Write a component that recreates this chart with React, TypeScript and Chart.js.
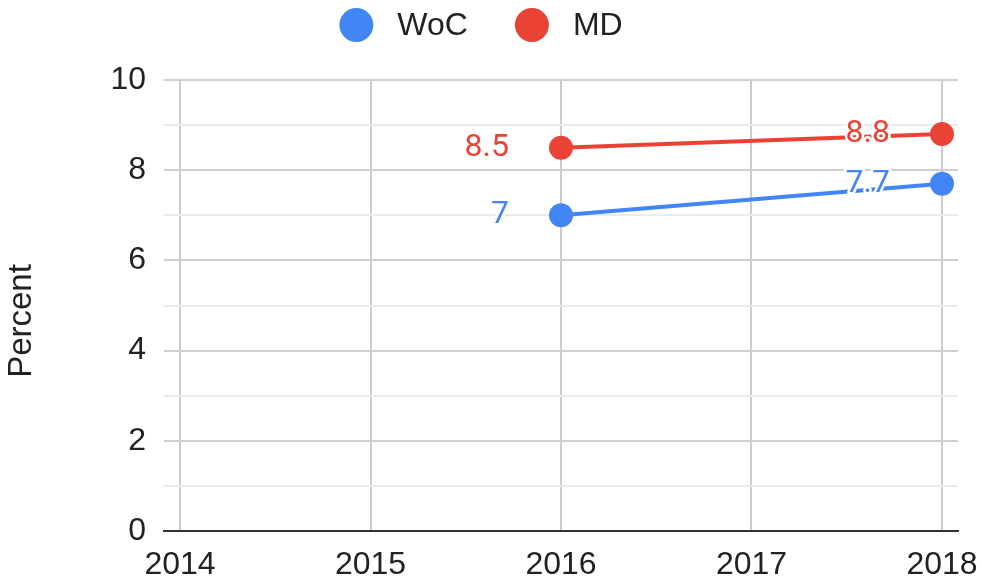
import React, { useEffect, useRef } from "react";
import { Chart, registerables } from "chart.js";

Chart.register(...registerables);

const seriesNames = ["WoC", "MD"];
const seriesColors = ["#4285F4", "#EA4335"];
const dataYears = [2016, 2018];
const wocValues = [7, 7.7];
const mdValues = [8.5, 8.8];
const xTickYears = [2014, 2015, 2016, 2017, 2018];
const yAxisTitle = "Percent";

const TEXT = "#222222";
const SANS = "'Liberation Sans', Arial, sans-serif";

const overlayPlugin = {
  id: "overlay",
  afterDatasetsDraw(chart: any) {
    const ctx = chart.ctx;
    ctx.save();
    ctx.font = "32px Roboto, 'Liberation Sans', sans-serif";
    ctx.textAlign = "right";
    ctx.textBaseline = "middle";
    ctx.lineJoin = "round";
    chart.data.datasets.forEach((ds: any, i: number) => {
      const meta = chart.getDatasetMeta(i);
      meta.data.forEach((pt: any, j: number) => {
        const label = String(ds.data[j].y);
        const x = pt.x - 52;
        const y = pt.y;
        ctx.lineWidth = 5;
        ctx.strokeStyle = "#ffffff";
        ctx.strokeText(label, x, y);
        ctx.fillStyle = ds.borderColor;
        ctx.fillText(label, x, y);
      });
    });
    ctx.restore();
  },
  afterDraw(chart: any) {
    const ctx = chart.ctx;
    ctx.save();
    ctx.font = "32px " + SANS;
    ctx.textBaseline = "middle";
    ctx.textAlign = "left";
    const r = 17;
    const gap = 24;
    const spacing = 47;
    const items = chart.data.datasets.map((ds: any) => ({
      label: ds.label,
      color: ds.borderColor,
      w: ctx.measureText(ds.label).width,
    }));
    let total = 0;
    items.forEach((it: any, i: number) => {
      total += 2 * r + gap + it.w + (i < items.length - 1 ? spacing : 0);
    });
    let x = 481 - total / 2;
    const ly = 25;
    items.forEach((it: any) => {
      ctx.fillStyle = it.color;
      ctx.beginPath();
      ctx.arc(x + r, ly, r, 0, Math.PI * 2);
      ctx.fill();
      ctx.fillStyle = TEXT;
      ctx.fillText(it.label, x + 2 * r + gap, ly + 1);
      x += 2 * r + gap + it.w + spacing;
    });
    ctx.translate(22, 321);
    ctx.rotate(-Math.PI / 2);
    ctx.font = "33px " + SANS;
    ctx.textAlign = "center";
    ctx.textBaseline = "middle";
    ctx.fillStyle = TEXT;
    ctx.fillText(yAxisTitle, 0, 0);
    ctx.restore();
  },
};

export default function App() {
  const ref = useRef<HTMLCanvasElement | null>(null);
  useEffect(() => {
    if (!ref.current) return;
    const mk = (vals: number[]) => vals.map((v, i) => ({ x: dataYears[i], y: v }));
    const chart = new Chart(ref.current, {
      type: "line",
      data: {
        datasets: [
          {
            label: seriesNames[0],
            data: mk(wocValues),
            borderColor: seriesColors[0],
            backgroundColor: seriesColors[0],
            borderWidth: 4,
            pointRadius: 12,
            pointBorderWidth: 0,
            pointBackgroundColor: seriesColors[0],
          },
          {
            label: seriesNames[1],
            data: mk(mdValues),
            borderColor: seriesColors[1],
            backgroundColor: seriesColors[1],
            borderWidth: 4,
            pointRadius: 12,
            pointBorderWidth: 0,
            pointBackgroundColor: seriesColors[1],
          },
        ],
      },
      options: {
        responsive: false,
        animation: false,
        layout: { padding: { top: 80, right: 23, left: 0, bottom: 0 } },
        plugins: {
          legend: { display: false },
          tooltip: { enabled: false },
          title: { display: false },
        },
        scales: {
          x: {
            type: "linear",
            min: xTickYears[0] - 0.084,
            max: xTickYears[xTickYears.length - 1] + 0.084,
            afterBuildTicks: (scale: any) => {
              scale.ticks = xTickYears.map((v) => ({ value: v }));
            },
            afterFit: (scale: any) => {
              scale.height = 52;
              scale.paddingLeft = 0;
              scale.paddingRight = 0;
            },
            grid: { color: "#cccccc", lineWidth: 2, drawTicks: false },
            border: { display: true, color: "#333333", width: 2 },
            ticks: {
              autoSkip: false,
              maxRotation: 0,
              padding: 15,
              color: TEXT,
              font: { family: SANS, size: 32 },
              callback: (v: any) => String(v),
            },
          },
          y: {
            min: 0,
            max: 10,
            afterFit: (scale: any) => {
              scale.width = 164;
              scale.paddingTop = 0;
              scale.paddingBottom = 0;
            },
            grid: {
              drawTicks: false,
              lineWidth: 2,
              color: (c: any) =>
                c.tick && c.tick.value === 0
                  ? "#333333"
                  : c.tick && c.tick.value % 2 === 0
                  ? "#d0d0d0"
                  : "#ebebeb",
            },
            border: { display: false },
            ticks: {
              stepSize: 1,
              autoSkip: false,
              padding: 18,
              color: TEXT,
              font: { family: SANS, size: 32 },
              callback: (v: any) => (Number(v) % 2 === 0 ? String(v) : ""),
            },
          },
        },
      },
      plugins: [overlayPlugin],
    } as any);
    return () => chart.destroy();
  }, []);
  return (
    <div style={{ position: "absolute", left: 0, top: 0, width: 981, height: 583, background: "#fff" }}>
      <canvas ref={ref} width={981} height={583} />
    </div>
  );
}
